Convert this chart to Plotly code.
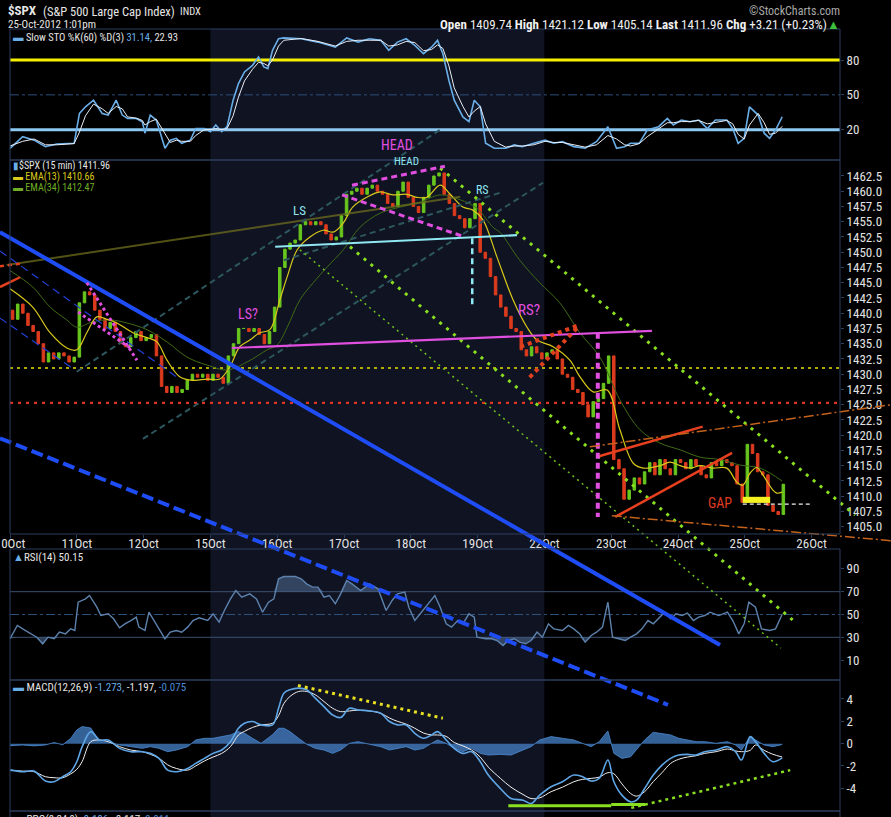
import numpy as np
import plotly.graph_objects as go

W, H = 891, 817
FONT = "Liberation Sans Narrow, Arial Narrow, Roboto Condensed, Liberation Sans, Arial, sans-serif"


def px(x):
    return x / W


def py(y):
    return 1 - y / H


# ---------------- data (x = trading days since 10-Oct open) ----------------
day_labels = ["10Oct", "11Oct", "12Oct", "15Oct", "16Oct", "17Oct", "18Oct",
              "19Oct", "22Oct", "23Oct", "24Oct", "25Oct", "26Oct"]
bars_per_day = 13  # 30-min bars
first_open = 1440.5
closes = [
    1439.0, 1441.5, 1440.0, 1438.0, 1437.0, 1435.0, 1432.0, 1433.5, 1432.5, 1433.5, 1433.0, 1432.0, 1432.8,
    1441.7, 1443.5, 1443.0, 1440.5, 1439.0, 1437.5, 1438.5, 1437.0, 1435.0, 1434.5, 1436.0, 1437.0, 1435.5,
    1436.0, 1436.5, 1433.0, 1428.0, 1427.0, 1428.0, 1427.0, 1427.5, 1429.0, 1430.0, 1429.5, 1430.0, 1429.0,
    1430.0, 1429.5, 1428.5, 1433.0, 1435.0, 1437.5, 1437.5, 1437.0, 1437.5, 1436.5, 1435.0, 1437.0, 1441.0,
    1447.5, 1450.5, 1451.5, 1452.0, 1454.5, 1455.0, 1454.5, 1455.0, 1454.5, 1453.0, 1452.0, 1452.5, 1456.0,
    1459.5, 1460.0, 1460.5, 1459.5, 1460.5, 1461.0, 1460.0, 1459.5, 1458.0, 1457.5, 1460.0, 1461.5, 1459.0,
    1457.5, 1456.5, 1459.0, 1461.0, 1462.5, 1463.0, 1459.5, 1458.0, 1456.0, 1455.5, 1454.0, 1455.5, 1458.0,
    1450.0, 1449.0, 1446.0, 1443.0, 1441.0, 1439.5, 1437.5, 1437.0, 1434.0, 1433.0, 1434.5, 1433.5, 1432.5,
    1433.5, 1434.0, 1432.5, 1430.0, 1429.5, 1427.5, 1427.0, 1425.0, 1423.0, 1425.5, 1426.0, 1428.5, 1433.0,
    1416.0, 1414.5, 1409.5, 1411.0, 1413.0, 1412.0, 1414.0, 1415.5, 1413.5, 1416.0, 1414.5, 1413.5, 1416.0,
    1415.5, 1414.5, 1416.0, 1415.0, 1413.5, 1413.0, 1415.5, 1415.0, 1416.0, 1415.5, 1415.0, 1412.0, 1409.0,
    1418.5, 1417.0, 1414.0, 1413.5, 1408.5, 1407.5, 1407.0, 1411.96,
]

ema13_t = [0.00, 0.34, 0.60, 0.85, 1.00, 1.15, 1.30, 1.45, 1.60, 1.84,
           2.05, 2.20, 2.35, 2.54, 2.74, 2.95, 3.14, 3.29, 3.44, 3.59,
           3.74, 3.89, 4.04, 4.15, 4.30, 4.49, 4.69, 4.84, 4.99, 5.13,
           5.34, 5.54, 5.73, 5.94, 6.09, 6.24, 6.44, 6.59, 6.78, 6.93,
           7.08, 7.29, 7.53, 7.74, 7.89, 8.13, 8.38, 8.53, 8.73, 8.94,
           9.13, 9.33, 9.48, 9.73, 9.88, 10.03, 10.18, 10.33, 10.52, 10.73,
           10.88, 10.97, 11.08, 11.18, 11.27, 11.42, 11.48, 11.56]
ema13 = [1444.0, 1441.0, 1436.8, 1434.3, 1434.0, 1436.8, 1439.4, 1439.0, 1438.4, 1436.8,
         1436.0, 1435.3, 1432.3, 1429.6, 1429.0, 1429.2, 1429.2, 1431.2, 1434.5, 1435.6,
         1436.8, 1437.3, 1442.2, 1446.0, 1450.4, 1452.5, 1453.6, 1453.3, 1454.8, 1457.4,
         1459.0, 1459.9, 1459.4, 1459.5, 1459.0, 1459.0, 1461.0, 1459.5, 1457.4, 1456.9,
         1455.3, 1449.2, 1442.2, 1437.7, 1435.6, 1434.5, 1432.3, 1429.6, 1427.1, 1427.4,
         1420.9, 1415.4, 1414.6, 1415.0, 1415.6, 1415.0, 1414.6, 1415.0, 1414.6, 1414.6,
         1412.3, 1411.8, 1413.8, 1414.7, 1413.5, 1411.0, 1410.5, 1410.66]

ema34_t = [0.00, 0.34, 0.60, 0.85, 1.00, 1.24, 1.50, 1.75, 2.05, 2.35,
           2.65, 2.95, 3.25, 3.55, 3.85, 4.00, 4.15, 4.34, 4.54, 4.75,
           4.99, 5.24, 5.54, 5.84, 6.14, 6.44, 6.74, 6.99, 7.23, 7.34,
           7.63, 7.93, 8.23, 8.53, 8.83, 9.13, 9.43, 9.73, 10.03, 10.33,
           10.63, 10.93, 11.23, 11.56]
ema34 = [1447.0, 1444.3, 1441.0, 1438.9, 1437.7, 1438.6, 1438.9, 1438.4, 1437.3, 1435.3,
         1432.8, 1431.5, 1430.7, 1432.0, 1434.0, 1434.8, 1437.7, 1442.2, 1445.0, 1447.6,
         1450.4, 1454.1, 1456.4, 1457.4, 1458.2, 1459.4, 1458.6, 1457.2, 1454.1, 1453.2,
         1448.7, 1445.0, 1441.7, 1436.8, 1432.8, 1425.8, 1420.9, 1418.7, 1417.6, 1416.4,
         1416.0, 1415.1, 1414.6, 1412.47]

sto_t = [0.00, 0.19, 0.36, 0.53, 0.70, 0.96, 1.04, 1.13, 1.25, 1.38,
         1.47, 1.59, 1.68, 1.76, 1.89, 1.98, 2.02, 2.10, 2.19, 2.32,
         2.40, 2.49, 2.57, 2.70, 2.78, 2.91, 3.00, 3.08, 3.17, 3.25,
         3.34, 3.42, 3.51, 3.63, 3.72, 3.80, 3.86, 3.93, 4.02, 4.10,
         4.36, 4.61, 4.87, 5.04, 5.21, 5.38, 5.55, 5.67, 5.80, 5.93,
         6.06, 6.19, 6.31, 6.40, 6.48, 6.57, 6.65, 6.78, 6.87, 6.95,
         7.04, 7.12, 7.25, 7.42, 7.55, 7.67, 7.84, 8.01, 8.14, 8.27,
         8.44, 8.61, 8.78, 8.95, 9.08, 9.20, 9.29, 9.42, 9.54, 9.71,
         9.84, 9.93, 10.05, 10.18, 10.31, 10.44, 10.56, 10.73, 10.82, 10.90,
         10.99, 11.07, 11.20, 11.29, 11.37, 11.46, 11.56]
sto_k = [4, 14, 11, 5.4, 7.7, 8.3, 34, 39.7, 45.4, 34,
         32.6, 45.4, 32.6, 29.7, 29.7, 26.9, 17, 32.6, 28.3, 4,
         11, 12.6, 8.3, 11, 21, 21, 18.3, 24, 18.3, 22.6,
         45.4, 59.7, 69.7, 75.4, 82.6, 74, 72.6, 88.3, 98.3, 99,
         98.3, 95.4, 91, 99, 95.4, 98.3, 96.9, 88.3, 95.4, 98.3,
         92.6, 85.4, 91, 96.9, 85.4, 62.6, 45.4, 31, 26.9, 45.4,
         39.7, 8.3, 4, 4, 6.9, 5.4, 8.3, 11, 8.3, 9.7,
         5.4, 4, 9.7, 22.6, 4, 5.4, 8.3, 8.3, 19.7, 22.6,
         29.7, 24, 28.3, 26.9, 28.3, 21, 28.3, 28.3, 21, 8.3,
         12.6, 39.7, 32.6, 17, 12.6, 19.7, 31.14]
sto_d = [6, 10, 12, 7, 7, 8, 18, 32, 42, 38,
         34, 40, 38, 31, 30, 28, 24, 27, 29, 16,
         9, 11, 10, 10, 15, 20, 20, 21, 20, 21,
         32, 48, 62, 72, 78, 77, 75, 80, 92, 97,
         98.5, 96, 92, 96, 97, 97, 97, 92, 93, 96,
         95, 88, 89, 93, 90, 75, 56, 40, 31, 36,
         40, 25, 10, 5, 6, 6, 7, 10, 9, 9,
         7, 5, 7, 15, 12, 7, 6, 8, 14, 21,
         26, 26, 27, 27, 28, 25, 26, 28, 25, 16,
         12, 24, 34, 26, 16, 17, 22.93]

rsi_t = [0.00, 0.11, 0.19, 0.32, 0.40, 0.49, 0.57, 0.66, 0.74, 0.83,
         0.91, 0.97, 1.02, 1.13, 1.19, 1.30, 1.36, 1.47, 1.55, 1.64,
         1.72, 1.81, 1.89, 1.93, 2.02, 2.08, 2.15, 2.23, 2.32, 2.40,
         2.49, 2.57, 2.66, 2.74, 2.83, 2.96, 3.04, 3.13, 3.21, 3.30,
         3.38, 3.47, 3.59, 3.69, 3.78, 3.87, 3.95, 4.02, 4.10, 4.27,
         4.36, 4.44, 4.53, 4.61, 4.70, 4.78, 4.87, 4.95, 5.04, 5.12,
         5.25, 5.38, 5.51, 5.63, 5.72, 5.80, 5.91, 5.97, 6.06, 6.14,
         6.23, 6.36, 6.44, 6.53, 6.61, 6.70, 6.78, 6.87, 6.95, 6.99,
         7.12, 7.21, 7.29, 7.38, 7.46, 7.55, 7.63, 7.72, 7.80, 7.89,
         7.97, 8.06, 8.14, 8.27, 8.36, 8.44, 8.53, 8.61, 8.70, 8.78,
         8.87, 8.95, 9.02, 9.12, 9.21, 9.29, 9.38, 9.46, 9.55, 9.63,
         9.72, 9.80, 9.89, 9.97, 10.06, 10.14, 10.23, 10.31, 10.40, 10.48,
         10.61, 10.74, 10.82, 10.91, 10.99, 11.06, 11.16, 11.25, 11.37, 11.46,
         11.56]
rsi = [28.7, 40.4, 37.4, 33, 30.1, 24.3, 30.1, 28.7, 34.5, 33,
       37.4, 36, 60.8, 63.7, 66.7, 56.4, 49.1, 50.6, 46.2, 38.3,
       41.8, 44.7, 47.7, 38.9, 36, 52, 44.7, 37.4, 28.7, 34.5,
       36, 34.5, 38.9, 44.7, 47.1, 44.7, 50.6, 43.3, 53.5, 63.7,
       71, 65.2, 68.1, 63.7, 52, 60.8, 63.7, 81.3, 83.3, 83.3,
       81.3, 76.9, 74, 74, 65.2, 66.7, 59.4, 68.1, 79.8, 76.9,
       71, 76.9, 72.5, 53.5, 62.3, 68.1, 69.6, 56.4, 44.7, 50.6,
       57.9, 66.7, 56.4, 41.8, 38.9, 44.7, 41.8, 50.6, 47.7, 30.1,
       28.7, 28.7, 27.2, 22.8, 27.2, 28.7, 25.7, 24.3, 27.2, 34.5,
       30.1, 41.8, 37.4, 36, 40.4, 37.4, 33, 25.7, 31.6, 34.5,
       38.9, 60.8, 30.1, 28.7, 27.2, 30.1, 33, 37.4, 44.7, 41.8,
       47.7, 52, 46.2, 50.6, 49.1, 51.2, 44.7, 47.7, 49.1, 52,
       49.1, 52, 44.7, 33, 41.8, 60.8, 56.4, 37.4, 36, 37.4,
       50.15]

macd_t = [0.00, 0.19, 0.36, 0.53, 0.66, 0.79, 0.91, 1.00, 1.08, 1.21,
          1.34, 1.47, 1.64, 1.81, 1.98, 2.10, 2.23, 2.36, 2.49, 2.66,
          2.78, 2.91, 3.04, 3.17, 3.30, 3.42, 3.51, 3.63, 3.76, 3.93,
          4.02, 4.10, 4.19, 4.32, 4.44, 4.57, 4.70, 4.83, 4.95, 5.08,
          5.21, 5.38, 5.55, 5.68, 5.80, 5.93, 6.06, 6.19, 6.31, 6.40,
          6.53, 6.65, 6.78, 6.91, 7.04, 7.16, 7.34, 7.50, 7.68, 7.80,
          7.93, 8.10, 8.27, 8.44, 8.57, 8.70, 8.82, 8.95, 9.04, 9.16,
          9.29, 9.38, 9.50, 9.63, 9.76, 9.89, 10.01, 10.14, 10.27, 10.40,
          10.57, 10.74, 10.86, 10.95, 11.08, 11.16, 11.29, 11.42, 11.56]
macd = [-2.37, -2.51, -2.46, -3.35, -3.41, -2.96, -2.51, -1.62, -0.27, 1.08,
        0.33, 0.33, -0.42, -0.72, -0.72, -0.87, -1.32, -2.37, -2.51, -2.22,
        -1.77, -1.32, -0.87, -0.57, 0.18, 1.38, 1.83, 1.98, 1.68, 1.68,
        3.17, 4.52, 4.82, 4.97, 4.82, 4.07, 3.32, 2.57, 2.34, 3.17,
        3.02, 2.93, 2.72, 1.98, 1.68, 1.68, 0.93, 0.48, 0.78, 1.08,
        0.33, -0.42, -0.87, -0.72, -1.62, -2.81, -4.01, -4.91, -5.06, -5.36,
        -4.61, -3.86, -3.41, -2.81, -2.96, -3.35, -3.11, -1.47, -3.41, -4.61,
        -5.21, -5.06, -4.01, -2.81, -1.92, -1.32, -1.02, -0.96, -1.02, -0.72,
        -0.57, -0.27, -0.72, -1.47, 0.63, 0.18, -0.87, -1.62, -1.273]
macd_signal = [-2.37, -2.46, -2.51, -2.96, -3.05, -3.05, -2.70, -2.30, -1.60, 0.18,
               0.33, 0.18, -0.27, -0.57, -0.72, -0.95, -1.30, -1.90, -2.22, -2.37,
               -2.00, -1.55, -1.20, -0.87, -0.27, 0.78, 1.10, 1.45, 1.68, 1.83,
               2.50, 3.60, 4.22, 4.67, 4.67, 4.37, 3.77, 3.17, 2.87, 2.93,
               3.00, 2.93, 2.72, 2.30, 2.00, 1.75, 1.38, 0.95, 0.78, 0.78,
               0.65, 0.10, -0.20, -0.57, -1.20, -2.10, -3.10, -3.90, -4.55, -4.91,
               -4.85, -4.30, -3.90, -3.41, -3.20, -3.11, -3.00, -2.60, -2.70, -3.60,
               -4.46, -4.70, -4.30, -3.40, -2.60, -1.77, -1.40, -1.20, -1.08, -0.87,
               -0.72, -0.48, -0.65, -0.72, -0.60, -0.12, -0.60, -0.95, -1.197]
macd_hist = [-0.18, -0.12, -0.20, -0.12, 0.10, -0.10, 0.48, 1.23, 1.53, 1.40,
             0.18, 0.18, -0.12, -0.27, -0.42, -0.27, -0.42, -0.72, -0.57, -0.27,
             0.33, 0.48, 0.48, 0.63, 0.78, 1.08, 0.93, 0.48, 0.03, 0.80,
             1.38, 1.38, 1.08, 0.48, -0.05, -0.42, -0.57, -0.87, -0.57, 0.03,
             0.18, -0.05, -0.27, -0.57, -0.42, -0.27, -0.57, -0.42, 0.03, 0.33,
             0.03, -0.42, -0.72, -0.42, -0.87, -1.02, -0.96, -1.02, -0.57, -0.27,
             0.33, 0.63, 0.48, 0.33, 0.03, -0.27, 0.18, 1.14, -0.87, -1.32,
             -1.17, -0.57, 0.33, 1.02, 0.93, 0.78, 0.48, 0.33, 0.18, 0.18,
             0.03, 0.18, -0.12, -0.57, 0.63, 0.33, -0.12, -0.27, -0.075]

price_ticks = [1405.0, 1407.5, 1410.0, 1412.5, 1415.0, 1417.5, 1420.0, 1422.5, 1425.0, 1427.5,
               1430.0, 1432.5, 1435.0, 1437.5, 1440.0, 1442.5, 1445.0, 1447.5, 1450.0, 1452.5,
               1455.0, 1457.5, 1460.0, 1462.5]

# support levels on price panel
support_yellow = 1431.0
support_red = 1425.3

# hand-drawn trend lines: (trading day, price scale extended over the whole chart)
blue_solid_t, blue_solid_p = [-0.15, 10.63], [1453.3, 1385.6]
blue_dash_t, blue_dash_p = [-0.15, 9.85], [1419.5, 1375.8]
chan_up_t, chan_up_p = [-0.15, 2.50], [1450.2, 1429.5]
chan_lo_t, chan_lo_p = [-0.15, 0.97], [1439.2, 1430.7]
red_stub_t, red_stub_p = [-0.15, 0.15], [1444.3, 1445.9]
red_stub2_t, red_stub2_p = [-0.15, 0.15], [1447.7, 1448.1]
olive_t, olive_p = [-0.05, 6.74], [1447.9, 1459.1]
teal_a_t, teal_a_p = [1.00, 6.48], [1430.4, 1470.4]
teal_b_t, teal_b_p = [1.99, 7.98], [1419.4, 1461.4]
teal_c_t, teal_c_p = [4.10, 7.38], [1448.7, 1459.9]
neck_cyan_t, neck_cyan_p = [3.97, 7.59], [1450.9, 1452.8]
drop_cyan_t, drop_cyan_p = [6.92, 6.92], [1452.3, 1440.9]
neck_pink_t, neck_pink_p = [3.32, 9.61], [1434.3, 1437.1]
head_top_t, head_top_p = [5.12, 6.51], [1461.0, 1464.1]
head_bot_t, head_bot_p = [4.97, 6.81], [1459.4, 1452.5]
flag_top_t, flag_top_p = [1.15, 1.90], [1445.0, 1432.3]
flag_bot_t, flag_bot_p = [1.02, 1.80], [1440.2, 1434.3]
drop_pink_t, drop_pink_p = [8.80, 8.80], [1436.8, 1406.6]
rs_a_t, rs_a_p = [7.64, 8.53], [1434.5, 1438.1]
rs_b_t, rs_b_p = [7.78, 8.50], [1429.5, 1437.7]
wedge_top_t, wedge_top_p = [8.83, 10.37], [1416.6, 1421.4]
wedge_bot_t, wedge_bot_p = [9.06, 10.81], [1406.6, 1417.1]
orange_top_t, orange_top_p = [8.68, 13.19], [1418.1, 1425.0]
orange_bot_t, orange_bot_p = [9.01, 13.19], [1406.8, 1402.7]
green_a_t, green_a_p = [6.44, 12.65], [1463.8, 1406.9]
green_b_t, green_b_p = [5.09, 11.75], [1450.9, 1389.4]
green_c_t, green_c_p = [4.34, 11.54], [1450.4, 1385.1]
gap_line_t, gap_line_p = [10.97, 11.98], [1408.7, 1408.7]
gap_box_t = [10.97, 11.38, 11.38, 10.97, 10.97]
gap_box_p = [1408.9, 1408.9, 1409.9, 1409.9, 1408.9]

# MACD panel lines
macd_top_t, macd_top_v = [4.31, 6.48], [5.21, 2.28]
macd_low1_t, macd_low1_v = [7.46, 9.00], [-5.57, -5.57]
macd_low2_t, macd_low2_v = [9.00, 9.51], [-5.45, -5.45]
macd_rise_t, macd_rise_v = [9.30, 11.68], [-5.75, -2.37]

# pattern labels
labels = [
    ("LS", 4.33, 1456.9, "#8fe6f2", 13),
    ("HEAD", 5.79, 1467.6, "#e04fe0", 14),
    ("HEAD", 5.93, 1464.8, "#8fe6f2", 11),
    ("RS", 7.08, 1460.2, "#8fe6f2", 12),
    ("LS?", 3.56, 1439.9, "#e04fe0", 14),
    ("RS?", 7.77, 1440.5, "#e04fe0", 15),
    ("GAP", 10.63, 1408.9, "#e03a20", 14),
]

# ---------------- styles ----------------
GREEN = "#68c61e"
RED = "#dc3b1e"
BORDER = "#2c3f5e"
TICK = "#e2e2e2"
BAND = "#101322"

n = len(closes)
bar_t = [i // bars_per_day + (i % bars_per_day + 0.5) / bars_per_day for i in range(n)]
opens = [first_open] + closes[:-1]
highs = [max(o, c) for o, c in zip(opens, closes)]
lows = [min(o, c) for o, c in zip(opens, closes)]

fig = go.Figure()

# STO panel
fig.add_trace(go.Scatter(x=sto_t, y=sto_k, xaxis="x", yaxis="y", mode="lines",
                         line=dict(color="#6aaee8", width=1.6)))
fig.add_trace(go.Scatter(x=sto_t, y=sto_d, xaxis="x", yaxis="y", mode="lines",
                         line=dict(color="#e8eef6", width=1)))

# price panel
fig.add_trace(go.Candlestick(
    x=bar_t, open=opens, high=highs, low=lows, close=closes, xaxis="x", yaxis="y2",
    increasing=dict(line=dict(color=GREEN, width=1), fillcolor=GREEN),
    decreasing=dict(line=dict(color=RED, width=1), fillcolor=RED),
    whiskerwidth=0, hoverinfo="skip"))
fig.add_trace(go.Scatter(x=ema34_t, y=ema34, xaxis="x", yaxis="y2", mode="lines",
                         line=dict(color="#3f6a16", width=1, shape="spline")))
fig.add_trace(go.Scatter(x=ema13_t, y=ema13, xaxis="x", yaxis="y2", mode="lines",
                         line=dict(color="#d9c91c", width=1.2, shape="spline")))

# RSI panel with shaded extremes
rsi_arr = np.array(rsi)
fig.add_trace(go.Scatter(x=rsi_t, y=[70] * len(rsi_t), xaxis="x", yaxis="y3", mode="lines",
                         line=dict(width=0), hoverinfo="skip"))
fig.add_trace(go.Scatter(x=rsi_t, y=np.maximum(rsi_arr, 70), xaxis="x", yaxis="y3", mode="lines",
                         line=dict(width=0), fill="tonexty", fillcolor="rgba(80,110,150,0.55)"))
fig.add_trace(go.Scatter(x=rsi_t, y=[30] * len(rsi_t), xaxis="x", yaxis="y3", mode="lines",
                         line=dict(width=0), hoverinfo="skip"))
fig.add_trace(go.Scatter(x=rsi_t, y=np.minimum(rsi_arr, 30), xaxis="x", yaxis="y3", mode="lines",
                         line=dict(width=0), fill="tonexty", fillcolor="rgba(80,110,150,0.55)"))
fig.add_trace(go.Scatter(x=rsi_t, y=rsi, xaxis="x", yaxis="y3", mode="lines",
                         line=dict(color="#5d82ad", width=1.4)))

# MACD panel
fig.add_trace(go.Scatter(x=macd_t, y=macd_hist, xaxis="x", yaxis="y4", mode="lines",
                         line=dict(color="#4a8ad0", width=0.8), fill="tozeroy",
                         fillcolor="rgba(70,130,200,0.75)"))
fig.add_trace(go.Scatter(x=macd_t, y=macd_signal, xaxis="x", yaxis="y4", mode="lines",
                         line=dict(color="#f0f0f0", width=1, shape="spline")))
fig.add_trace(go.Scatter(x=macd_t, y=macd, xaxis="x", yaxis="y4", mode="lines",
                         line=dict(color="#5fa6e6", width=1.6, shape="spline")))
for t, v, color, width, dash in [
    (macd_top_t, macd_top_v, "#e8e020", 3, "3px,4px"),
    (macd_low1_t, macd_low1_v, "#8ae020", 3, "solid"),
    (macd_low2_t, macd_low2_v, "#8ae020", 3, "solid"),
    (macd_rise_t, macd_rise_v, "#8ae020", 2.5, "3px,4px"),
]:
    fig.add_trace(go.Scatter(x=t, y=v, xaxis="x", yaxis="y4", mode="lines",
                             line=dict(color=color, width=width, dash=dash)))

# overlay trend lines (span several panels)
trend = [
    (olive_t, olive_p, "rgba(110,110,30,0.75)", 2, "solid"),
    (teal_a_t, teal_a_p, "#2d575e", 2, "6px,4px"),
    (teal_b_t, teal_b_p, "#2d575e", 2, "6px,4px"),
    (teal_c_t, teal_c_p, "#2d575e", 2, "6px,4px"),
    (chan_up_t, chan_up_p, "#2440d8", 1.2, "8px,5px"),
    (chan_lo_t, chan_lo_p, "#2440d8", 1.2, "8px,5px"),
    (red_stub_t, red_stub_p, "#e0401e", 2.5, "solid"),
    (red_stub2_t, red_stub2_p, "#e0401e", 2.5, "4px,4px"),
    (green_c_t, green_c_p, "#6fc21c", 1.5, "2px,4px"),
    (green_b_t, green_b_p, "#8ae020", 3, "3px,6px"),
    (green_a_t, green_a_p, "#8ae020", 3, "3px,6px"),
    (blue_solid_t, blue_solid_p, "#1f4df5", 4, "solid"),
    (blue_dash_t, blue_dash_p, "#1f4df5", 4, "12px,5px"),
    (neck_cyan_t, neck_cyan_p, "#8fe8f2", 2.2, "solid"),
    (drop_cyan_t, drop_cyan_p, "#8fe8f2", 2.5, "6px,4px"),
    (neck_pink_t, neck_pink_p, "#e04fe0", 2.2, "solid"),
    (head_top_t, head_top_p, "#e04fe0", 3, "6px,4px"),
    (head_bot_t, head_bot_p, "#e04fe0", 3, "6px,4px"),
    (flag_top_t, flag_top_p, "#e04fe0", 3, "3px,3px"),
    (flag_bot_t, flag_bot_p, "#e04fe0", 3, "3px,3px"),
    (drop_pink_t, drop_pink_p, "#e04fe0", 4, "6px,4px"),
    (rs_a_t, rs_a_p, "#e0401e", 4, "4px,4px"),
    (rs_b_t, rs_b_p, "#e0401e", 4, "4px,4px"),
    (wedge_top_t, wedge_top_p, "#e8401e", 2.5, "solid"),
    (wedge_bot_t, wedge_bot_p, "#e8401e", 2.5, "solid"),
    (orange_top_t, orange_top_p, "#c4621c", 1.5, "10px,3px,2px,3px"),
    (orange_bot_t, orange_bot_p, "#c4621c", 1.5, "10px,3px,2px,3px"),
    (gap_line_t, gap_line_p, "#f0f0f0", 1.2, "4px,3px"),
]
for t, p, color, width, dash in trend:
    fig.add_trace(go.Scatter(x=t, y=p, xaxis="x2", yaxis="y5", mode="lines",
                             line=dict(color=color, width=width, dash=dash), hoverinfo="skip"))
fig.add_trace(go.Scatter(x=gap_box_t, y=gap_box_p, xaxis="x2", yaxis="y5", mode="lines",
                         line=dict(width=0), fill="toself", fillcolor="#f5f020"))

# ---------------- shapes ----------------
shapes = [
    dict(type="rect", xref="x", yref="paper", x0=3, x1=8, y0=0, y1=py(29),
         fillcolor=BAND, line=dict(width=0), layer="below"),
    dict(type="line", xref="x domain", yref="y", x0=0, x1=1, y0=80, y1=80,
         line=dict(color="#f5f000", width=3), layer="below"),
    dict(type="line", xref="x domain", yref="y", x0=0, x1=1, y0=20, y1=20,
         line=dict(color="#8cc8f0", width=3), layer="below"),
    dict(type="line", xref="x domain", yref="y", x0=0, x1=1, y0=50, y1=50,
         line=dict(color="#2c4f7c", width=1, dash="dashdot"), layer="below"),
    dict(type="line", xref="x domain", yref="y3", x0=0, x1=1, y0=70, y1=70,
         line=dict(color="#3a5070", width=1), layer="below"),
    dict(type="line", xref="x domain", yref="y3", x0=0, x1=1, y0=30, y1=30,
         line=dict(color="#3a5070", width=1), layer="below"),
    dict(type="line", xref="x domain", yref="y3", x0=0, x1=1, y0=50, y1=50,
         line=dict(color="#2c4f7c", width=1, dash="dashdot"), layer="below"),
    dict(type="line", xref="x domain", yref="y2", x0=0, x1=1, y0=support_yellow, y1=support_yellow,
         line=dict(color="#e8e000", width=1.5, dash="3px,4px"), layer="below"),
    dict(type="line", xref="x domain", yref="y2", x0=0, x1=1, y0=support_red, y1=support_red,
         line=dict(color="#e0341e", width=2.2, dash="3px,5px"), layer="below"),
]
for ya in ["y", "y2", "y3", "y4"]:
    shapes.append(dict(type="rect", xref="x domain", yref=ya + " domain", x0=0, x1=1, y0=0, y1=1,
                       line=dict(color=BORDER, width=1), layer="above"))
shapes.append(dict(type="rect", xref="paper", yref="paper", x0=px(10), x1=px(840), y0=-0.02, y1=py(811),
                   line=dict(color=BORDER, width=1), layer="above"))


# ---------------- annotations ----------------
def ann(text, x, y, size=11, color="#e6e6e6", xanchor="left"):
    return dict(text=text, x=px(x), y=py(y), xref="paper", yref="paper", showarrow=False,
                xanchor=xanchor, yanchor="middle", borderpad=0,
                font=dict(size=size, color=color, family=FONT))


annotations = [
    ann("<b>$SPX</b>", 7, 10.5, 13),
    ann("(S&amp;P 500 Large Cap Index)", 42, 11, 12.5),
    ann("INDX", 179, 11, 10.5),
    ann("25-Oct-2012 1:01pm", 7, 24.5, 11),
    ann("©StockCharts.com", 841, 11, 12, "#a8a8a8", "right"),
    ann("<b>Open</b> 1409.74 <b>High</b> 1421.12 <b>Low</b> 1405.14 <b>Last</b> 1411.96 "
        "<b>Chg</b> +3.21 (+0.23%)<span style='color:#3cc03c'>▲</span>", 841, 24, 13, "#f0f0f0", "right"),
    ann("<span style='color:#6aaee8'>▬</span> Slow STO %K(60) %D(3) "
        "<span style='color:#6aaee8'>31.14,</span> 22.93", 12, 37.5, 10.5),
    ann("<span style='color:#6aaee8'>▮</span>$SPX (15 min) 1411.96", 12, 165, 10),
    ann("<span style='color:#d9c91c'>▬ EMA(13) 1410.66</span>", 12, 176.5, 10),
    ann("<span style='color:#6fae25'>▬ EMA(34) 1412.47</span>", 12, 188, 10),
    ann("<span style='color:#6aaee8'>▲</span>RSI(14) 50.15", 12, 557, 11),
    ann("<span style='color:#6aaee8'>▬</span> MACD(12,26,9) <span style='color:#6aaee8'>-1.273,</span> "
        "-1.197, <span style='color:#4a8ad0'>-0.075</span>", 12, 687, 11),
    dict(text="<span style='color:#6aaee8'>▬</span> PPO(9,24,9) <span style='color:#6aaee8'>-0.106,</span> "
              "-0.117, <span style='color:#4a8ad0'>0.011</span>",
         x=px(12), y=py(812), xref="paper", yref="paper", showarrow=False, xanchor="left",
         yanchor="top", borderpad=0, font=dict(size=11, color="#e6e6e6", family=FONT)),
]
for text, t, p, color, size in labels:
    annotations.append(dict(text=text, x=t, y=p, xref="x2", yref="y5", showarrow=False,
                            borderpad=0, font=dict(size=size, color=color, family=FONT)))

axis_common = dict(showgrid=False, zeroline=False, showline=False, side="right", anchor="x",
                   tickfont=dict(size=13, color=TICK, family=FONT), ticks="outside",
                   ticklen=3, tickcolor=BORDER, fixedrange=True, automargin=False)

fig.update_layout(
    width=W, height=H, margin=dict(l=0, r=0, t=0, b=0, autoexpand=False),
    paper_bgcolor="black", plot_bgcolor="rgba(0,0,0,0)",
    showlegend=False, font=dict(family=FONT, color="#e6e6e6", size=11),
    shapes=shapes, annotations=annotations,
    xaxis=dict(domain=[px(10), px(840)], range=[0, 12.425], anchor="y2",
               tickvals=list(range(len(day_labels))), ticktext=day_labels,
               ticks="outside", ticklen=3, tickcolor=BORDER, showgrid=False, zeroline=False,
               showline=False, rangeslider=dict(visible=False), ticklabeloverflow="allow",
               automargin=False, ticklabelstandoff=-6,
               tickfont=dict(size=13, color=TICK, family=FONT)),
    xaxis2=dict(domain=[0, 1], range=[-0.1497, 13.189], anchor="y5", visible=False),
    yaxis=dict(domain=[py(160), py(29)], range=[-6.08, 106.68], tickvals=[20, 50, 80], **axis_common),
    yaxis2=dict(domain=[py(534), py(160)], range=[1403.80, 1465.12], tickvals=price_ticks,
                tickformat=".1f", **axis_common),
    yaxis3=dict(domain=[py(680), py(549)], range=[-7.46, 107.46], tickvals=[10, 30, 50, 70, 90],
                **axis_common),
    yaxis4=dict(domain=[py(811), py(680)], range=[-6.03, 5.70], tickvals=[-4, -2, 0, 2, 4],
                ticktext=["-4", "-2", "0", "2", "4"], **axis_common),
    yaxis5=dict(domain=[0, 1], range=[1357.40, 1491.36], anchor="x2", visible=False),
)

fig.write_html("out.html", config={"displayModeBar": False},
               post_script="document.body.style.margin='0';")
